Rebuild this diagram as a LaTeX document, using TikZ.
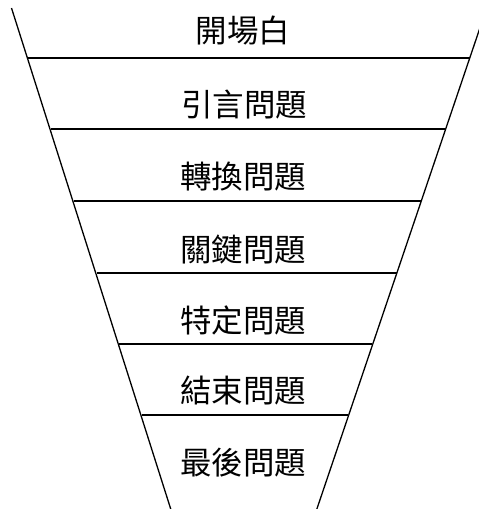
\documentclass[tikz,border=0pt]{standalone}
\usepackage{fontspec}
\newfontfamily\cjk{Noto Sans CJK TC}
\begin{document}
\begin{tikzpicture}[x=1pt,y=-1pt,
  edge/.style={line width=1.3pt,black},
  lab/.style={font=\cjk\fontsize{31.5}{31.5}\selectfont,inner sep=0pt,anchor=center}]
\useasboundingbox (0,0) rectangle (479,509);
\clip (0,0) rectangle (479,509);
% funnel sides
\coordinate (lt) at (11.5,8);
\coordinate (lb) at (172,513);
\coordinate (rt) at (486.7,8);
\coordinate (rb) at (315.5,513);
\draw[edge] (lt) -- (lb);
\draw[edge] (rt) -- (rb);
% dividers
\foreach \y/\l/\r in {58/28.3/469.7,129/50.8/445.5,201/73.6/421,273/96.5/396.6,344/119/372.4,415/141.5/348.3}
  \draw[edge] (\l,\y) -- (\r,\y);
% labels
\node[lab] (t1) at (243,31) {開場白};
\node[lab] (t2) at (244,105) {引言問題};
\node[lab] (t3) at (243,177) {轉換問題};
\node[lab] (t4) at (243,249) {關鍵問題};
\node[lab] (t5) at (243,320) {特定問題};
\node[lab] (t6) at (243,391) {結束問題};
\node[lab] (t7) at (243,463) {最後問題};
\end{tikzpicture}
\end{document}
